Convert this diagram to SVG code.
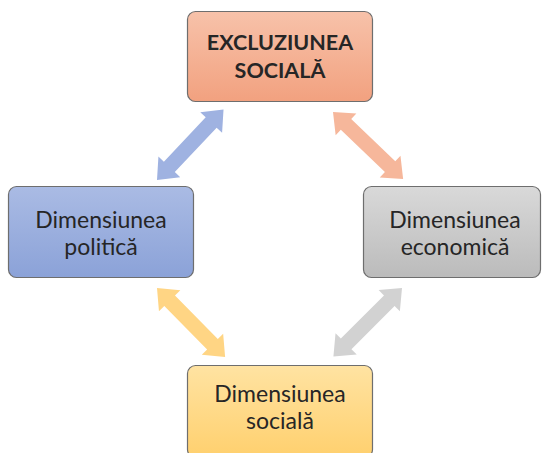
<svg xmlns="http://www.w3.org/2000/svg" xmlns:xlink="http://www.w3.org/1999/xlink" width="543" height="453" viewBox="0 0 543 453">
<style>
.box{stroke:#6e6e6e;stroke-width:1.2}
.t{font-family:Lato,"Liberation Sans",sans-serif;font-size:23px;fill:#262626;text-anchor:middle}
.b{font-weight:bold;font-size:21.5px}
</style>
<defs>
<linearGradient id="gO" x1="0" y1="0" x2="0" y2="1"><stop offset="0" stop-color="#f7c2aa"/><stop offset="1" stop-color="#f2a17f"/></linearGradient>
<linearGradient id="gB" x1="0" y1="0" x2="0" y2="1"><stop offset="0" stop-color="#aabbe4"/><stop offset="1" stop-color="#8ba2d8"/></linearGradient>
<linearGradient id="gG" x1="0" y1="0" x2="0" y2="1"><stop offset="0" stop-color="#d9d9d9"/><stop offset="1" stop-color="#bbbbbb"/></linearGradient>
<linearGradient id="gY" x1="0" y1="0" x2="0" y2="1"><stop offset="0" stop-color="#ffe3a2"/><stop offset="1" stop-color="#ffd06e"/></linearGradient>
<path id="arr" d="M0,0 L18,-15 L18,-7.5 L79,-7.5 L79,-15 L97,0 L79,15 L79,7.5 L18,7.5 L18,15 Z"/>
</defs>
<g id="connectors">
<use xlink:href="#arr" fill="#9fb2e1" transform="translate(157,180) rotate(-46.7)"/>
<use xlink:href="#arr" fill="#f6b79b" transform="translate(333,112) rotate(43.7)"/>
<use xlink:href="#arr" fill="#ffd584" transform="translate(157,288) rotate(45.4)"/>
<use xlink:href="#arr" fill="#d2d2d2" transform="translate(402,288) rotate(135)"/>
</g>
<g id="top">
<rect class="box" x="187.5" y="11.5" width="185" height="90" rx="8" fill="url(#gO)"/>
<text class="t b" x="280" y="50">EXCLUZIUNEA</text>
<text class="t b" x="280" y="78">SOCIALĂ</text>
</g>
<g id="left">
<rect class="box" x="8.5" y="186.5" width="185" height="91" rx="8" fill="url(#gB)"/>
<text class="t" x="101" y="228">Dimensiunea</text>
<text class="t" x="101" y="255">politică</text>
</g>
<g id="right">
<rect class="box" x="363.5" y="186.5" width="177" height="91" rx="8" fill="url(#gG)"/>
<text class="t" x="455" y="228">Dimensiunea</text>
<text class="t" x="455" y="255">economică</text>
</g>
<g id="bottom">
<rect class="box" x="187.5" y="365.5" width="185" height="92" rx="8" fill="url(#gY)"/>
<text class="t" x="280" y="402">Dimensiunea</text>
<text class="t" x="280" y="429">socială</text>
</g>
</svg>
